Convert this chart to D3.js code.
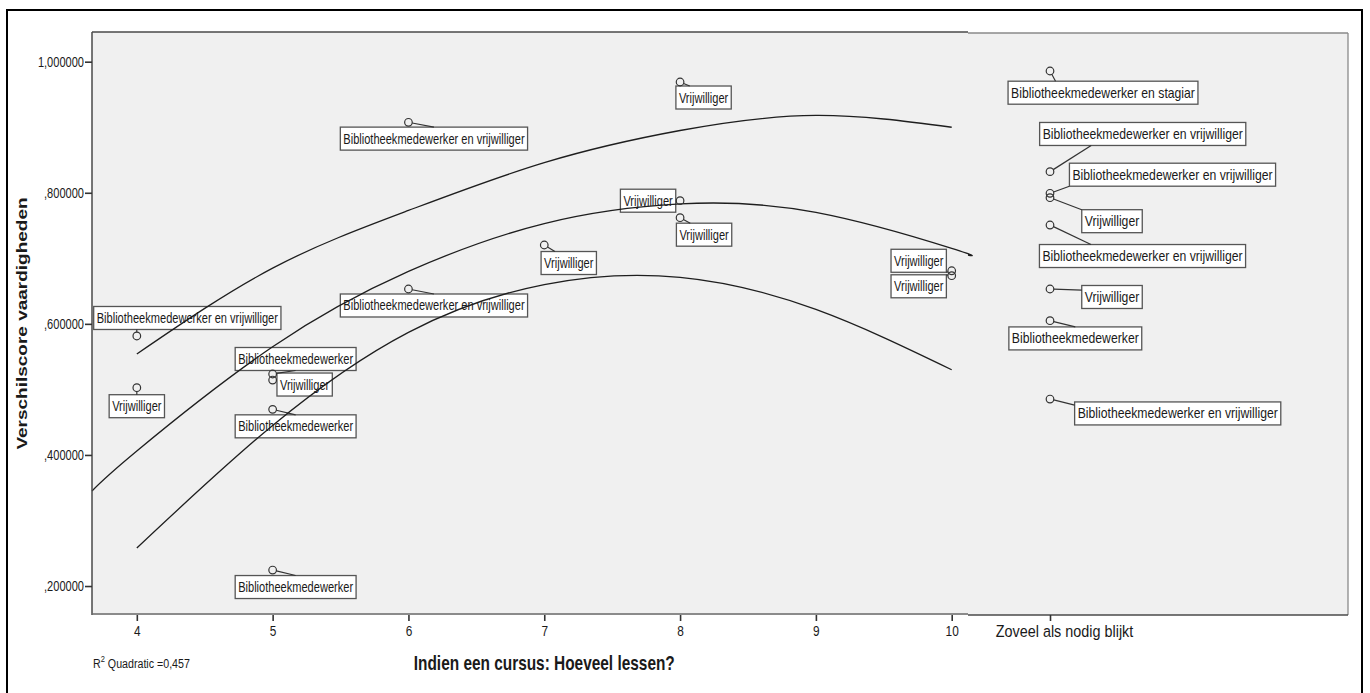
<!DOCTYPE html>
<html>
<head>
<meta charset="utf-8">
<script src="https://cdn.jsdelivr.net/npm/d3@7"></script>
<style>
  body { margin: 0; background: #fff; }
  svg { display: block; }
  text { font-family: "Liberation Sans", Arial, sans-serif; fill: #1a1a1a; }
</style>
</head>
<body>
<svg id="chart" width="1370" height="693"></svg>
<script>
// ---- Axis content ----
const lessonTicks = [4, 5, 6, 7, 8, 9, 10];
const lessonTickLabels = ["4", "5", "6", "7", "8", "9", "10"];
const categoryLabel = "Zoveel als nodig blijkt";
const yTicks = [0.2, 0.4, 0.6, 0.8, 1.0];
const yTickLabels = [",200000", ",400000", ",600000", ",800000", "1,000000"];
const xTitle = "Indien een cursus: Hoeveel lessen?";
const yTitle = "Verschilscore vaardigheden";
const rSquaredText = "0,457";

// ---- Respondents with a numeric number of lessons ----
const pointLessons = [4, 4, 5, 5, 5, 5, 6, 6, 7, 8, 8, 8, 10, 10];
const pointScores = [0.5815, 0.5026, 0.5235, 0.5143, 0.4696, 0.2244, 0.9075, 0.6532,
                     0.7203, 0.969, 0.7879, 0.762, 0.681, 0.6735];
const pointRoles = [
  "Bibliotheekmedewerker en vrijwilliger", "Vrijwilliger",
  "Bibliotheekmedewerker", "Vrijwilliger", "Bibliotheekmedewerker", "Bibliotheekmedewerker",
  "Bibliotheekmedewerker en vrijwilliger", "Bibliotheekmedewerker en vrijwilliger",
  "Vrijwilliger", "Vrijwilliger", "Vrijwilliger", "Vrijwilliger",
  "Vrijwilliger", "Vrijwilliger"
];

// ---- Respondents answering "Zoveel als nodig blijkt" ----
const categoryScores = [0.9858, 0.8322, 0.7992, 0.7925, 0.7508, 0.6532, 0.6048, 0.4853];
const categoryRoles = [
  "Bibliotheekmedewerker en stagiar", "Bibliotheekmedewerker en vrijwilliger",
  "Bibliotheekmedewerker en vrijwilliger", "Vrijwilliger",
  "Bibliotheekmedewerker en vrijwilliger", "Vrijwilliger",
  "Bibliotheekmedewerker", "Bibliotheekmedewerker en vrijwilliger"
];

// ---- Quadratic fit line and its 95% confidence band ----
const fitLessons = [3.67, 4, 5, 6, 7, 8, 9, 10, 10.12];
const fitScores = [0.345, 0.406, 0.565, 0.680, 0.753, 0.783, 0.770, 0.715, 0.705];
const bandLessons = [4, 5, 6, 7, 8, 9, 10];
const bandUpper = [0.554, 0.685, 0.773, 0.846, 0.895, 0.918, 0.900];
const bandLower = [0.258, 0.445, 0.587, 0.660, 0.671, 0.622, 0.530];

// ---- Label placement: box centre offset (dx, dy) and leader anchor on the box (ax, ay) ----
const pointLabelLayout = [
  [50.5, -18, 0.23, 1], [0, 18.5, 0.5, 0],
  [23, -15, 0.5, 1], [32, 4.5, 0, 0.3], [23, 17, 0.5, 0], [23, 17, 0.5, 0],
  [25.5, 16.3, 0.5, 0], [25.5, 16.5, 0.5, 0],
  [24.5, 18, 0.25, 0], [23.5, 15.5, 0.25, 0], [-32, 0, 1, 0.5], [24, 17, 0.25, 0],
  [-33, -10, 1, 1], [-33, 10.6, 1, 0]
];
const categoryLabelLayout = [
  [53, 21.7, 0.25, 0], [92.7, -37.7, 0.25, 1], [122.5, -18.6, 0, 1], [62, 23.5, 0, 0],
  [92.5, 31, 0.25, 0], [62, 8, 0, 0.2], [25.3, 17.7, 0.5, 0], [127.7, 14.4, 0, 0.14]
];

// ---- Layout ----
const plotLeft = 92, splitX = 968, plotRight = 1348, plotTop = 32, plotBottom = 615;
const squeezeLeft = 0.79, squeezeRight = 0.873;   // horizontal text squeeze per panel
const labelSize = 14, boxH = 23, circleR = 3.8;

const svg = d3.select("#chart");

const x = d3.scaleLinear().domain([3.67, 10.12]).range([plotLeft, splitX]);
const xCat = d3.scalePoint().domain([categoryLabel]).range([splitX, plotRight]).align(0.2158);
const y = d3.scaleLinear().domain([0.1558, 1.0453]).range([plotBottom, plotTop]);

// outer frame
svg.append("rect").attr("x", 7).attr("y", 10).attr("width", 1355).attr("height", 700)
  .attr("fill", "#fff").attr("stroke", "#000").attr("stroke-width", 2);

// panel backgrounds
svg.append("rect").attr("x", plotLeft).attr("y", plotTop)
  .attr("width", splitX - plotLeft).attr("height", plotBottom - plotTop).attr("fill", "#f0f0f0");
svg.append("rect").attr("x", splitX).attr("y", plotTop + 1)
  .attr("width", plotRight - splitX).attr("height", plotBottom - plotTop - 1).attr("fill", "#f0f0f0");

// ---- labelled points ----
const points = pointLessons.map((l, i) => ({
  cx: x(l), cy: y(pointScores[i]), role: pointRoles[i], lay: pointLabelLayout[i], sx: squeezeLeft
})).concat(categoryScores.map((s, i) => ({
  cx: xCat(categoryLabel), cy: y(s), role: categoryRoles[i], lay: categoryLabelLayout[i], sx: squeezeRight
})));

const labelLayer = svg.append("g");
const leaderLayer = svg.append("g");
points.forEach(p => {
  const [dx, dy, ax, ay] = p.lay;
  const g = labelLayer.append("g");
  const rect = g.append("rect");
  const bx = p.cx + dx, by = p.cy + dy;
  const t = g.append("text")
    .attr("transform", `translate(${bx},${by + 5}) scale(${p.sx},1)`)
    .attr("text-anchor", "middle")
    .style("font-size", labelSize + "px")
    .text(p.role);
  const w = t.node().getComputedTextLength() * p.sx + 6;
  const left = bx - w / 2, top = by - boxH / 2;
  rect.attr("x", left).attr("y", top).attr("width", w).attr("height", boxH)
    .attr("fill", "#fff").attr("stroke", "#555").attr("stroke-width", 1.3);
  // leader from circle edge to the anchor on the box
  const ex = left + ax * w, ey = top + ay * boxH;
  const dist = Math.hypot(ex - p.cx, ey - p.cy);
  if (dist > circleR + 1) {
    const ux = (ex - p.cx) / dist, uy = (ey - p.cy) / dist;
    leaderLayer.append("line")
      .attr("x1", p.cx + ux * circleR).attr("y1", p.cy + uy * circleR)
      .attr("x2", ex).attr("y2", ey)
      .attr("stroke", "#333").attr("stroke-width", 1.2);
  }
});

// ---- fit line and band ----
const line = d3.line().x(d => x(d[0])).y(d => y(d[1])).curve(d3.curveNatural);
const curves = svg.append("g").attr("fill", "none").attr("stroke", "#1e1e1e").attr("stroke-width", 1.3);
curves.append("path").attr("d", line(fitLessons.map((l, i) => [l, fitScores[i]])));
curves.append("path").attr("d", line(bandLessons.map((l, i) => [l, bandUpper[i]])));
curves.append("path").attr("d", line(bandLessons.map((l, i) => [l, bandLower[i]])));

// circles
svg.append("g").selectAll("circle").data(points).join("circle")
  .attr("cx", d => d.cx).attr("cy", d => d.cy).attr("r", circleR)
  .attr("fill", "none").attr("stroke", "#333").attr("stroke-width", 1.2);

// ---- panel borders ----
const borders = svg.append("g").attr("fill", "none");
borders.append("line").attr("x1", plotLeft).attr("x2", splitX).attr("y1", plotTop).attr("y2", plotTop)
  .attr("stroke", "#4a4a4a").attr("stroke-width", 1.5);
borders.append("line").attr("x1", splitX).attr("x2", plotRight).attr("y1", plotTop + 1).attr("y2", plotTop + 1)
  .attr("stroke", "#8a8a8a").attr("stroke-width", 1.3);
borders.append("line").attr("x1", plotRight).attr("x2", plotRight).attr("y1", plotTop + 1).attr("y2", plotBottom)
  .attr("stroke", "#8a8a8a").attr("stroke-width", 1.3);
borders.append("line").attr("x1", plotLeft).attr("x2", plotLeft).attr("y1", plotTop).attr("y2", plotBottom)
  .attr("stroke", "#4a4a4a").attr("stroke-width", 1.5);
borders.append("line").attr("x1", plotLeft).attr("x2", splitX).attr("y1", plotBottom - 1).attr("y2", plotBottom - 1)
  .attr("stroke", "#6a6a6a").attr("stroke-width", 1.4);
borders.append("line").attr("x1", splitX).attr("x2", plotRight).attr("y1", plotBottom).attr("y2", plotBottom)
  .attr("stroke", "#4a4a4a").attr("stroke-width", 1.4);

// ---- axes ----
function styleAxis(g, size) {
  g.select(".domain").remove();
  g.selectAll(".tick line").attr("stroke", "#333").attr("stroke-width", 1.6);
  g.selectAll(".tick text").style("font-size", size + "px").attr("fill", "#222")
    .style("font-family", '"Liberation Sans", Arial, sans-serif');
}

const xAxis = svg.append("g").attr("transform", `translate(0,${plotBottom})`)
  .call(d3.axisBottom(x).tickValues(lessonTicks).tickFormat((d, i) => lessonTickLabels[i]).tickSize(6).tickPadding(4));
styleAxis(xAxis, 15);
xAxis.selectAll(".tick text").attr("transform", `scale(${squeezeLeft},1)`);

const catAxis = svg.append("g").attr("transform", `translate(0,${plotBottom})`)
  .call(d3.axisBottom(xCat).tickSize(6).tickPadding(4));
styleAxis(catAxis, 16.5);
// category label sits slightly right of its tick
catAxis.selectAll(".tick text").attr("transform", `translate(14,0) scale(${squeezeRight},1)`);

const yAxis = svg.append("g").attr("transform", `translate(${plotLeft},0)`)
  .call(d3.axisLeft(y).tickValues(yTicks).tickFormat((d, i) => yTickLabels[i]).tickSize(7).tickPadding(1));
styleAxis(yAxis, 14);
yAxis.selectAll(".tick text").attr("x", -8 / squeezeLeft).attr("transform", `scale(${squeezeLeft},1)`);

// ---- titles ----
svg.append("text")
  .attr("transform", `translate(${x(7)},670) scale(${squeezeLeft},1)`)
  .attr("text-anchor", "middle").style("font-size", "19.5px").style("font-weight", "bold")
  .text(xTitle);

svg.append("text")
  .attr("transform", `translate(27,${(plotTop + plotBottom) / 2}) rotate(-90) scale(1,${squeezeLeft})`)
  .attr("text-anchor", "middle").style("font-size", "19px").style("font-weight", "bold")
  .text(yTitle);

// R² note
const r2 = svg.append("text")
  .attr("transform", `translate(${plotLeft + 1},668) scale(${squeezeLeft},1)`)
  .style("font-size", "13.5px");
r2.append("tspan").text("R");
r2.append("tspan").attr("dy", -6).style("font-size", "9.5px").text("2");
r2.append("tspan").attr("dy", 6).text(" Quadratic =" + rSquaredText);
</script>
</body>
</html>
